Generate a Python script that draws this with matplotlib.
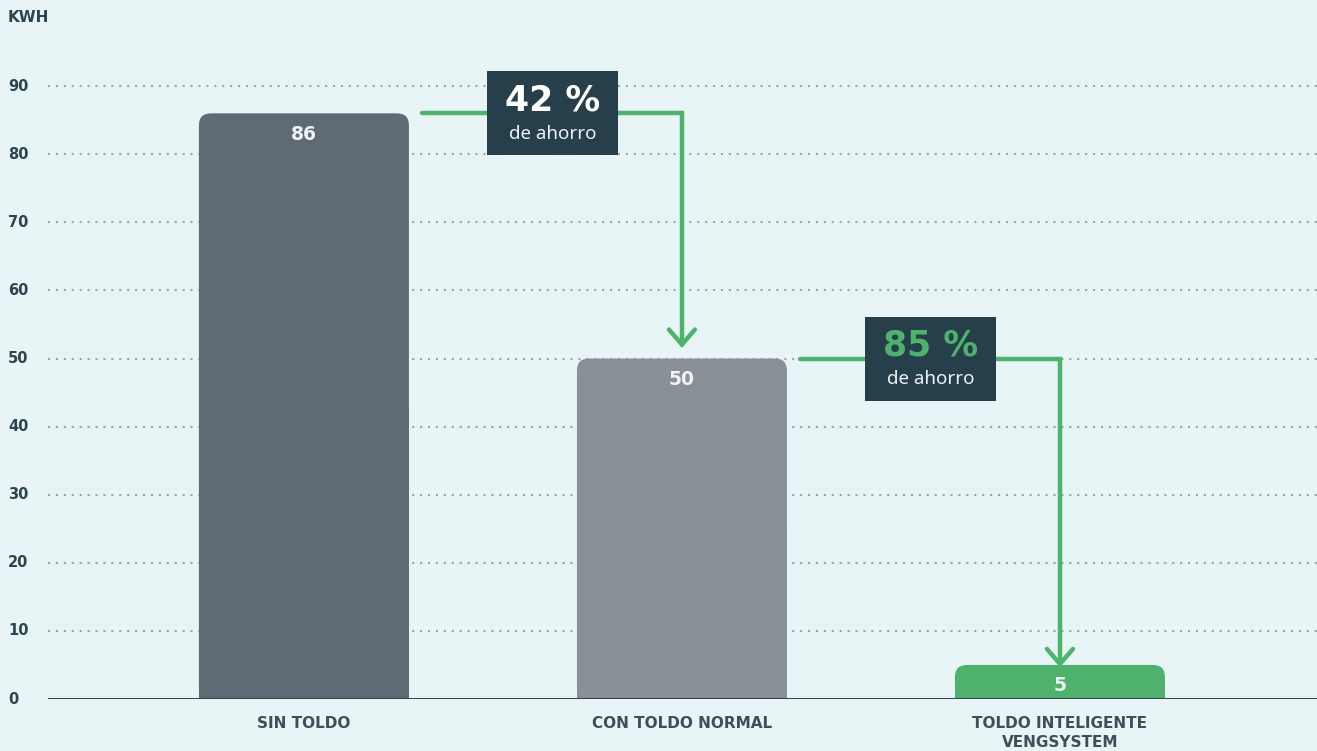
import matplotlib
matplotlib.use('Agg')
import matplotlib.pyplot as plt
from matplotlib.patches import FancyBboxPatch, Rectangle

# ---- data ----
categories = ['SIN TOLDO', 'CON TOLDO NORMAL', 'TOLDO INTELIGENTE\nVENGSYSTEM']
kwh = [86, 50, 5]
bar_colors = ['#5f6a75', '#8a9098', '#4eb26d']
savings = [42, 85]
saving_colors = ['#ffffff', '#4eb26d']
yticks = [0, 10, 20, 30, 40, 50, 60, 70, 80, 90]

BG = '#e9f4f6'
DARK = '#2c4550'
BOX = '#263f4b'
GREEN = '#4cb56b'
WIDE = ['DejaVu Sans']  # wide bold face for the spaced-out labels
BADGE = ['Noto Sans', 'DejaVu Sans']

plt.rcParams['font.family'] = ['Noto Sans', 'DejaVu Sans']

W, H = 1317, 751
fig = plt.figure(figsize=(W / 100, H / 100), dpi=100)
fig.patch.set_facecolor(BG)
ax_l, ax_b, ax_w, ax_h = 48, 52, 1269, 681
ax = fig.add_axes([ax_l / W, ax_b / H, ax_w / W, ax_h / H])
ax.set_facecolor(BG)

xmin, xmax = -0.677, 2.68
ymin, ymax = 0, 100
ax.set_xlim(xmin, xmax)
ax.set_ylim(ymin, ymax)

# data units per pixel
px_x = (xmax - xmin) / ax_w
px_y = (ymax - ymin) / ax_h

# grid + axis line
ax.set_yticks(yticks[1:])
ax.yaxis.grid(True, linestyle=(0, (1, 2.8)), color='#9aa4a9', linewidth=1.5)
ax.set_axisbelow(True)
ax.axhline(0, color='#2f4652', linewidth=2.2, zorder=3)
for s in ax.spines.values():
    s.set_visible(False)
ax.tick_params(length=0, labelleft=False)

for t in yticks:
    ax.text(-40 / ax_w, t, str(t), transform=ax.get_yaxis_transform(),
            ha='left', va='center', fontsize=10.5, fontweight='bold', color=DARK,
            family=WIDE)

fig.text(8 / W, 1 - 17 / H, 'KWH', ha='left', va='center', fontsize=11,
         fontweight='bold', color=DARK, family=WIDE)

# ---- bars with rounded tops ----
bw = 210 * px_x
r = 12 * px_x
aspect = px_y / px_x
xs = list(range(len(kwh)))
for x, v, c in zip(xs, kwh, bar_colors):
    ax.add_patch(FancyBboxPatch((x - bw / 2, 0), bw, v,
                                boxstyle=f'round,pad=0,rounding_size={r}',
                                mutation_aspect=aspect, fc=c, ec='none', zorder=2))
    ax.add_patch(Rectangle((x - bw / 2, 0), bw, v / 2, fc=c, ec='none', zorder=2))
    ax.annotate(str(v), (x, v), xytext=(0, -21), textcoords='offset pixels',
                ha='center', va='center', fontsize=13.5, fontweight='bold',
                color='#eef2f4', zorder=4, family=WIDE)

ax.set_xticks(xs)
ax.set_xticklabels(categories, fontsize=11, fontweight='bold', color='#3d4f5a',
                   linespacing=1.4, va='top', family=WIDE)
ax.tick_params(axis='x', pad=12)

# ---- savings connectors ----
tip_gap = [14, 1]
for i in range(len(savings)):
    x0 = xs[i] + bw / 2 + 13 * px_x
    y0 = kwh[i]
    x1 = xs[i + 1]
    y1 = kwh[i + 1] + tip_gap[i] * px_y
    ax.plot([x0, x1, x1], [y0, y0, y1], color=GREEN, linewidth=3.2,
            solid_capstyle='round', solid_joinstyle='miter', zorder=4)
    ax.plot([x1 - 13 * px_x, x1, x1 + 13 * px_x],
            [y1 + 15 * px_y, y1, y1 + 15 * px_y], color=GREEN, linewidth=3.2,
            solid_capstyle='round', solid_joinstyle='round', zorder=4)

    cx = xs[i] + 0.657
    bx_w, bx_h = 131 * px_x, 84 * px_y
    ax.add_patch(Rectangle((cx - bx_w / 2, y0 - bx_h / 2), bx_w, bx_h,
                           fc=BOX, ec='none', zorder=5))
    ax.annotate(f'{savings[i]} %', (cx, y0), xytext=(0, 13), textcoords='offset pixels',
                ha='center', va='center', fontsize=25, fontweight='bold',
                color=saving_colors[i], zorder=6, family=WIDE)
    ax.annotate('de ahorro', (cx, y0), xytext=(0, -21), textcoords='offset pixels',
                ha='center', va='center', fontsize=13.5, color='#eef2f4', zorder=6,
                family=BADGE)

fig.savefig('out.png', dpi=100, facecolor=BG)
